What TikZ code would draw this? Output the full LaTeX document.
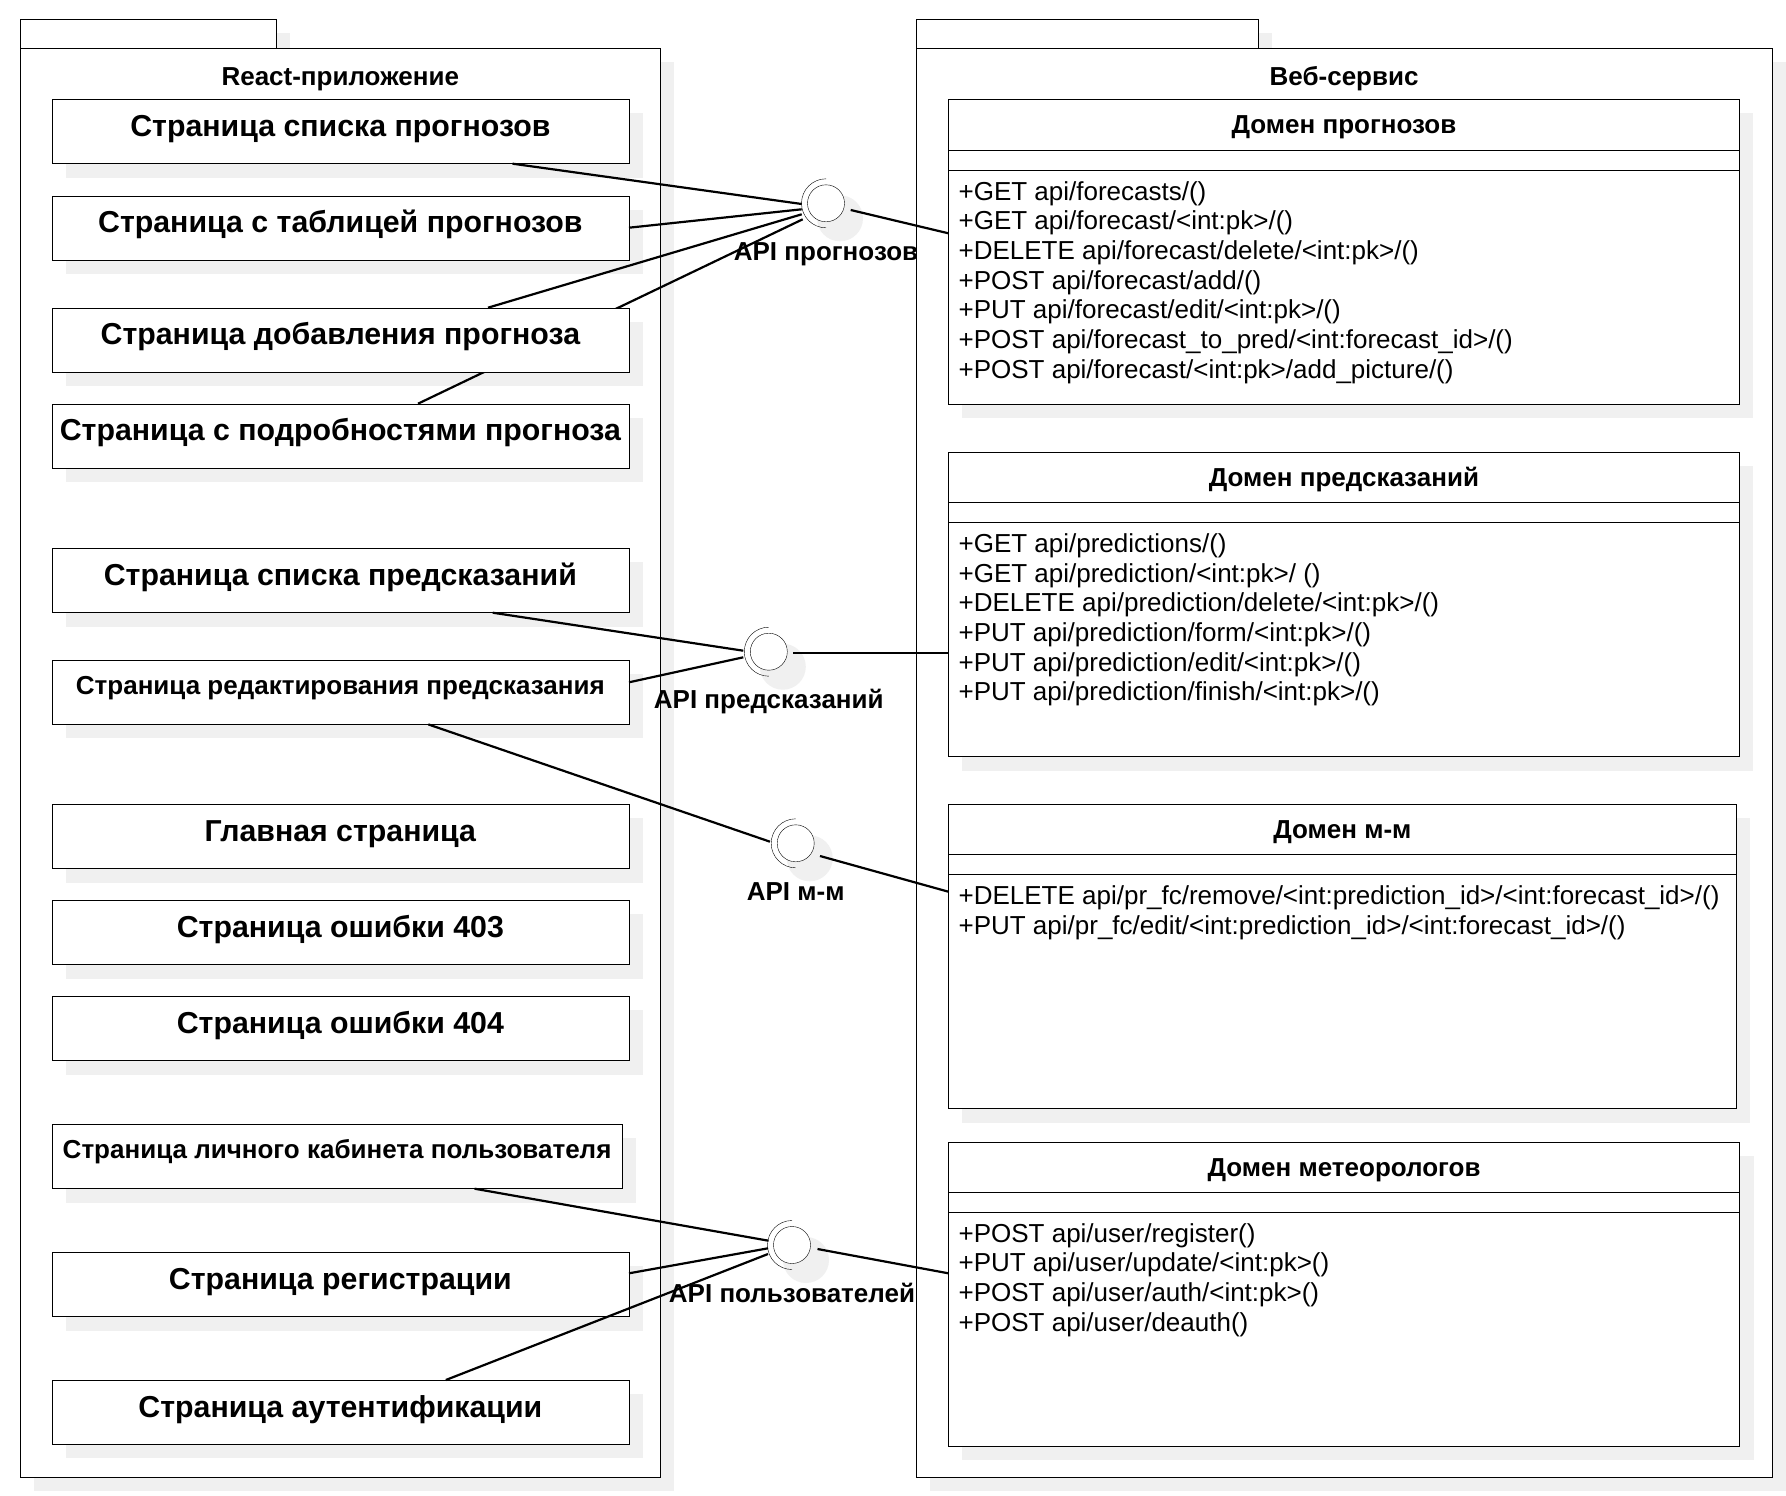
\documentclass[tikz,border=0pt]{standalone}
\usepackage{fontspec}
\setmainfont{Liberation Sans}
\usetikzlibrary{calc}
\definecolor{shadowc}{RGB}{240,240,240}
\pgfdeclarelayer{bgs}
\pgfdeclarelayer{bg}
\pgfdeclarelayer{shd}
\pgfdeclarelayer{ebk}
\pgfsetlayers{bgs,bg,shd,ebk,main}
\tikzset{
  pkgbox/.style={draw=black, fill=white, rectangle, inner sep=0pt, anchor=north west},
  pagebox/.style={draw=black, fill=white, rectangle, inner sep=0pt, anchor=north west,
    minimum width=576.9pt, minimum height=64pt,
    font=\bfseries\fontsize{30.3}{36}\selectfont, text height=22pt, text depth=12pt},
  pageboxs/.style={pagebox, font=\bfseries\fontsize{26}{31}\selectfont, text height=19pt, text depth=14.4pt},
  clsbox/.style={draw=black, fill=white, rectangle, inner sep=0pt, anchor=north west, minimum height=304.4pt},
  hdr/.style={font=\bfseries\fontsize{26}{31}\selectfont, anchor=base, inner sep=0pt},
  meth/.style={font=\fontsize{26}{31}\selectfont, anchor=base west, inner sep=0pt},
  iface/.style={circle, draw=black, fill=white, minimum size=37pt, inner sep=0pt},
  ilabel/.style={font=\bfseries\fontsize{26}{31}\selectfont, anchor=base, inner sep=0pt},
  conn/.style={draw=black, line width=2.2pt},
}
\newcommand\classdeco[2]{%
  \node[hdr] (#1h) at ($(#1.north)+(0,34.5)$) {#2};
  \draw ($(#1.north west)+(0,50.4)$) -- ($(#1.north east)+(0,50.4)$);
  \draw ($(#1.north west)+(0,70.7)$) -- ($(#1.north east)+(0,70.7)$);}
\newcommand\socketof[1]{%
  \draw (#1.center) ++(0,-24.5) arc[start angle=270,end angle=90,radius=24.5];}
\begin{document}
\begin{tikzpicture}[x=1pt,y=-1pt,line width=2.2pt]
\useasboundingbox (0,0) rectangle (1786,1496);

% ---------- packages ----------
\begin{pgfonlayer}{bgs}
  \fill[white] (0,0) rectangle (1786,1496);
  \fill[shadowc] (34.1,33.5) rectangle (290,61.7);
  \fill[shadowc] (34.1,61.7) rectangle (674,1491);
  \fill[shadowc] (930,33.5) rectangle (1271.8,61.7);
  \fill[shadowc] (930,61.7) rectangle (1785.8,1491);
\end{pgfonlayer}
\begin{pgfonlayer}{bg}
  \node[pkgbox, minimum width=255.9pt, minimum height=28.2pt] (lpt) at (20.1,19.5) {};
  \node[pkgbox, minimum width=639.9pt, minimum height=1429.3pt] (lp) at (20.1,47.7) {};
  \node[pkgbox, minimum width=341.8pt, minimum height=28.2pt] (rpt) at (916,19.5) {};
  \node[pkgbox, minimum width=855.8pt, minimum height=1429.3pt] (rp) at (916,47.7) {};
\end{pgfonlayer}
\node[hdr] (lptitle) at ($(lp.north)+(0,37.3)$) {React-приложение};
\node[hdr] (rptitle) at ($(rp.north)+(0,37.3)$) {Веб-сервис};

% ---------- pages ----------
\node[pagebox] (b1) at (51.7,99.3) {Страница списка прогнозов};
\node[pagebox] (b2) at (51.7,195.7) {Страница с таблицей прогнозов};
\node[pagebox] (b3) at (51.7,307.7) {Страница добавления прогноза};
\node[pagebox] (b4) at (51.7,403.7) {Страница с подробностями прогноза};
\node[pagebox] (b5) at (51.7,548.3) {Страница списка предсказаний};
\node[pageboxs] (b6) at (51.7,660) {Страница редактирования предсказания};
\node[pagebox] (b7) at (51.7,804.3) {Главная страница};
\node[pagebox] (b8) at (51.7,900.2) {Страница ошибки 403};
\node[pagebox] (b9) at (51.7,996.1) {Страница ошибки 404};
\node[pageboxs, minimum width=570.3pt] (b10) at (51.7,1124.3) {Страница личного кабинета пользователя};
\node[pagebox] (b11) at (51.7,1252.3) {Страница регистрации};
\node[pagebox] (b12) at (51.7,1380) {Страница аутентификации};

% ---------- classes ----------
\node[clsbox, minimum width=790.6pt] (cA) at (948.4,99.3) {};
\node[clsbox, minimum width=790.6pt] (cB) at (948.4,451.7) {};
\node[clsbox, minimum width=787.5pt] (cC) at (948.4,803.9) {};
\node[clsbox, minimum width=790.9pt] (cD) at (948.4,1141.5) {};
\classdeco{cA}{Домен прогнозов}
\classdeco{cB}{Домен предсказаний}
\classdeco{cC}{Домен м-м}
\classdeco{cD}{Домен метеорологов}

\foreach \t [count=\i from 0] in {
  {+GET api/forecasts/()},
  {+GET api/forecast/<int:pk>/()},
  {+DELETE api/forecast/delete/<int:pk>/()},
  {+POST api/forecast/add/()},
  {+PUT api/forecast/edit/<int:pk>/()},
  {+POST api/forecast\_to\_pred/<int:forecast\_id>/()},
  {+POST api/forecast/<int:pk>/add\_picture/()}}
  {\node[meth] (mA\i) at ($(cA.north west)+(10,{100.7+29.7*\i})$) {\t};}
\foreach \t [count=\i from 0] in {
  {+GET api/predictions/()},
  {+GET api/prediction/<int:pk>/ ()},
  {+DELETE api/prediction/delete/<int:pk>/()},
  {+PUT api/prediction/form/<int:pk>/()},
  {+PUT api/prediction/edit/<int:pk>/()},
  {+PUT api/prediction/finish/<int:pk>/()}}
  {\node[meth] (mB\i) at ($(cB.north west)+(10,{100.7+29.7*\i})$) {\t};}
\foreach \t [count=\i from 0] in {
  {+DELETE api/pr\_fc/remove/<int:prediction\_id>/<int:forecast\_id>/()},
  {+PUT api/pr\_fc/edit/<int:prediction\_id>/<int:forecast\_id>/()}}
  {\node[meth] (mC\i) at ($(cC.north west)+(10,{100.7+29.7*\i})$) {\t};}
\foreach \t [count=\i from 0] in {
  {+POST api/user/register()},
  {+PUT api/user/update/<int:pk>()},
  {+POST api/user/auth/<int:pk>()},
  {+POST api/user/deauth()}}
  {\node[meth] (mD\i) at ($(cD.north west)+(10,{100.7+29.7*\i})$) {\t};}

% ---------- interfaces ----------
\node[iface] (i1) at (826,203.3) {};
\node[iface] (i2) at (768.8,651.7) {};
\node[iface] (i3) at (795.7,843.3) {};
\node[iface] (i4) at (792,1245) {};
\socketof{i1}\socketof{i2}\socketof{i3}\socketof{i4}
\node[ilabel] (i1l) at ($(i1)+(0,57)$) {API прогнозов};
\node[ilabel] (i2l) at ($(i2)+(0,57)$) {API предсказаний};
\node[ilabel] (i3l) at ($(i3)+(0,57)$) {API м-м};
\node[ilabel] (i4l) at ($(i4)+(0,57)$) {API пользователей};

% ---------- shadows ----------
\begin{pgfonlayer}{shd}
  \foreach \n in {b1,b2,b3,b4,b5,b6,b7,b8,b9,b10,b11,b12,cA,cB,cC,cD}
    {\fill[shadowc] ($(\n.north west)+(14,14)$) rectangle ($(\n.south east)+(14,14)$);}
  \foreach \n in {i1,i2,i3,i4}
    {\fill[shadowc] ($(\n.center)+(14,15)$) circle (23);}
\end{pgfonlayer}

% ---------- connectors ----------
\begin{pgfonlayer}{ebk}
  \draw[conn] ($(b4.north west)+(366.3,0)$) -- ($(i1)+(-23.3,16)$);
\end{pgfonlayer}
\draw[conn] ($(b1.south west)+(460.9,0)$) -- ($(i1)+(-24.3,0.7)$);
\draw[conn] ($(b2.north east)+(0,32)$) -- ($(i1)+(-24.3,6)$);
\draw[conn] ($(b3.north west)+(436.3,0)$) -- ($(i1)+(-24.3,11)$);
\draw[conn] ($(i1)+(24.7,6.7)$) -- ($(cA.north west)+(0,134)$);

\draw[conn] ($(b5.south west)+(441,0)$) -- ($(i2)+(-25.5,-1)$);
\draw[conn] ($(b6.north east)+(0,22.3)$) -- ($(i2)+(-25.5,5.6)$);
\draw[conn] ($(i2)+(24.5,1.6)$) -- ($(cB.north west)+(0,201.6)$);

\draw[conn] ($(b6.south west)+(376.6,0)$) -- ($(i3)+(-25.7,-1.6)$);
\draw[conn] ($(i3)+(24.3,12.7)$) -- ($(cC.north west)+(0,87.8)$);

\draw[conn] ($(b10.south west)+(422.9,0)$) -- ($(i4)+(-23.5,-4.3)$);
\draw[conn] ($(b11.north east)+(0,21)$) -- ($(i4)+(-24,3.3)$);
\draw[conn] ($(b12.north west)+(394.1,0)$) -- ($(i4)+(-24,9)$);
\draw[conn] ($(i4)+(25.5,4)$) -- ($(cD.north west)+(0,131.8)$);
\end{tikzpicture}
\end{document}
